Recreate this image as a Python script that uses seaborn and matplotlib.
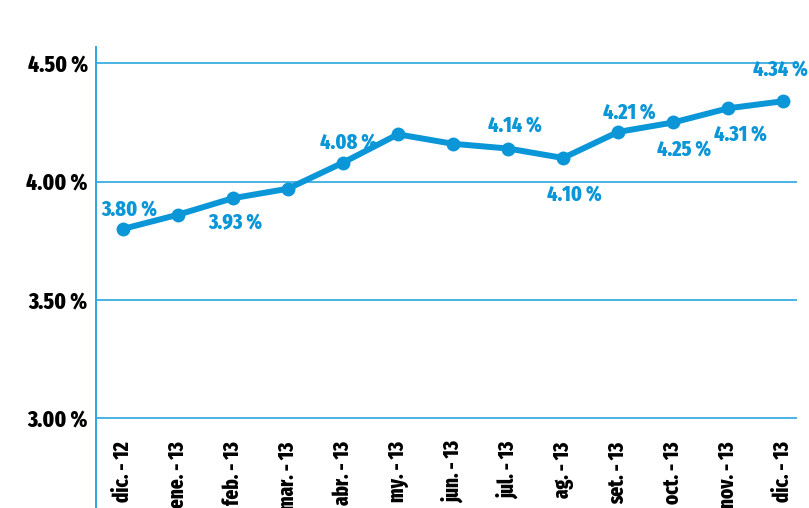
import matplotlib
matplotlib.use("Agg")
import matplotlib.pyplot as plt
from matplotlib import font_manager
import pandas as pd
import seaborn as sns

# Monthly rate, Dec 2012 - Dec 2013
months = ["dic. - 12", "ene. - 13", "feb. - 13", "mar. - 13", "abr. - 13",
          "my. - 13", "jun. - 13", "jul. - 13", "ag. - 13", "set. - 13",
          "oct. - 13", "nov. - 13", "dic. - 13"]
rates = [3.80, 3.86, 3.93, 3.97, 4.08, 4.20, 4.16, 4.14, 4.10, 4.21, 4.25, 4.31, 4.34]

# Months that carry a value label, with the label offset (points) from the marker
labeled = ["dic. - 12", "feb. - 13", "abr. - 13", "jul. - 13", "ag. - 13",
           "set. - 13", "oct. - 13", "nov. - 13", "dic. - 13"]
label_dx = [5, 2, 4, 5, 8, 8, 8, 9, -2]
label_dy = [14, -18, 15, 17, -26, 14, -19, -19, 23]

y_ticks = [3.00, 3.50, 4.00, 4.50]

BLUE = "#0a96d7"
GRID_BLUE = "#2ba6df"
WEIGHT = 800

sns.set_theme(style="white")
names = {f.name for f in font_manager.fontManager.ttflist}
family = next((n for n in ["Fira Sans Extra Condensed", "Barlow Condensed",
                           "Roboto Condensed"] if n in names), "DejaVu Sans")
plt.rcParams["font.family"] = [family, "DejaVu Sans"]
plt.rcParams["font.weight"] = WEIGHT

df = pd.DataFrame({"month": months, "rate": rates})

fig = plt.figure(figsize=(8.09, 5.08), dpi=100)
ax = fig.add_axes([96 / 809, 0.0, (797 - 96) / 809, (508 - 47) / 508])

sns.lineplot(data=df, x="month", y="rate", ax=ax, color=BLUE, linewidth=4.3,
             marker="o", markersize=10, markeredgewidth=0, sort=False)

ax.set_xlim(-0.485, 12.25)
ax.set_ylim(2.621, 4.569)

ax.set_yticks(y_ticks)
ax.set_yticklabels([f"{t:.2f} %" for t in y_ticks], fontsize=16.5,
                   fontweight=WEIGHT, color="black")
ax.yaxis.grid(True, color=GRID_BLUE, linewidth=1.2)
ax.xaxis.grid(False)

ax.set_xticks(range(len(months)))
ax.set_xticklabels(months, rotation=90, fontsize=15, fontweight=WEIGHT,
                   color="black")
ax.tick_params(axis="x", length=0, pad=-48)
ax.tick_params(axis="y", length=0, pad=6)
ax.set_xlabel("")
ax.set_ylabel("")

for side in ["top", "right", "bottom"]:
    ax.spines[side].set_visible(False)
ax.spines["left"].set_color(GRID_BLUE)
ax.spines["left"].set_linewidth(1.4)

for m, dx, dy in zip(labeled, label_dx, label_dy):
    i = months.index(m)
    v = rates[i]
    ax.annotate(f"{v:.2f} %", xy=(i, v), xytext=(dx, dy),
                textcoords="offset points", ha="center", va="center",
                fontsize=15.5, fontweight=WEIGHT, color=BLUE,
                annotation_clip=False)

fig.savefig("out.png", dpi=100)
